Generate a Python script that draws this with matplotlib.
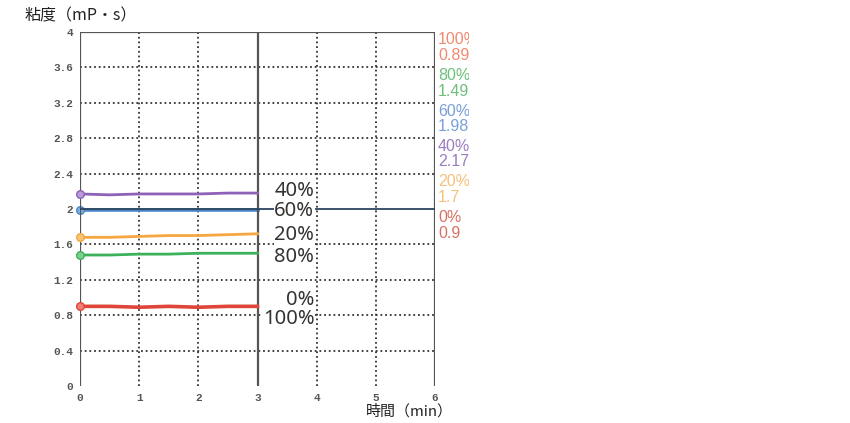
import matplotlib
matplotlib.use('Agg')
import matplotlib.pyplot as plt
from matplotlib.transforms import Bbox, TransformedBbox

# データ（読み取り値）
time_min = [0, 0.5, 1.0, 1.5, 2.0, 2.5, 3.0]
series_names = ['40%', '60%', '20%', '80%', '0%', '100%']
visc_40 = [2.17, 2.16, 2.17, 2.17, 2.17, 2.18, 2.18]
visc_60 = [1.99, 1.99, 1.99, 1.99, 1.99, 1.99, 1.99]
visc_20 = [1.68, 1.68, 1.69, 1.70, 1.70, 1.71, 1.72]
visc_80 = [1.48, 1.48, 1.49, 1.49, 1.50, 1.50, 1.50]
visc_0 = [0.90, 0.90, 0.89, 0.90, 0.89, 0.90, 0.90]

right_names = ['100%', '80%', '60%', '40%', '20%', '0%']
right_values = ['0.89', '1.49', '1.98', '2.17', '1.7', '0.9']

y_ticks = [0, 0.4, 0.8, 1.2, 1.6, 2.0, 2.4, 2.8, 3.2, 3.6, 4]
y_tick_labels = ['0', '0.4', '0.8', '1.2', '1.6', '2', '2.4', '2.8', '3.2', '3.6', '4']
x_ticks = [0, 1, 2, 3, 4, 5, 6]

fig = plt.figure(figsize=(8.5, 4.23), dpi=100)
ax = fig.add_axes([80 / 850, 37 / 423, 355 / 850, 354 / 423])
ax.set_xlim(0, 6)
ax.set_ylim(0, 4)

# グリッド
dot = (0, (1, 1.6))
ax.vlines([1, 2, 4, 5], 0, 4, colors='#333333', linestyles=dot, linewidth=1.3, zorder=1)
ax.hlines([0.4, 0.8, 1.2, 1.6, 2.4, 2.8, 3.2, 3.6], 0, 6, colors='#333333', linestyles=dot,
          linewidth=1.3, zorder=1)
ax.vlines([0, 3, 6], 0, 4, colors='#555555', linewidth=1.6, zorder=2)
ax.hlines([4], 0, 6, colors='#555555', linewidth=1.6, zorder=2)
ax.hlines([2.0], 0, 6, colors='#2d4560', linewidth=1.3, zorder=2)

for s in ax.spines.values():
    s.set_visible(False)

# データ線
line_styles = [
    (visc_40, '#8e62b8', '#b79ad6', 2.0, 3),
    (visc_60, '#4a86c8', '#7fb0e0', 2.6, 1.5),
    (visc_20, '#f5a742', '#f8c47a', 2.0, 3),
    (visc_80, '#3cb15a', '#7ccf8f', 2.0, 3),
    (visc_0, '#e0453a', '#ee8077', 2.6, 3),
]
for vals, c, mc, lw, z in line_styles:
    ax.plot(time_min, vals, color=c, lw=lw, marker='o', ms=5.5, markevery=[0],
            mfc=mc, mec=c, zorder=z, clip_on=False)

# 線のラベル
label_y = [2.20, 1.98, 1.71, 1.46, 0.97, 0.76]
for name, yy in zip(series_names, label_y):
    ax.text(3.96, yy, name, ha='right', va='center', fontsize=14.5, color='#333333',
            family=['Noto Sans', 'DejaVu Sans'], zorder=4,
            bbox=dict(facecolor='white', edgecolor='none', pad=0.3))

ax.set_yticks(y_ticks)
ax.set_yticklabels(y_tick_labels)
ax.set_xticks(x_ticks)
ax.tick_params(length=0, labelsize=8, labelcolor='#555555', pad=5)
for lab in ax.get_xticklabels() + ax.get_yticklabels():
    lab.set_family('Liberation Mono')
    lab.set_fontweight('bold')

# 右側の凡例（はみ出し部分を切る）
right_colors = ['#f08a70', '#6cc07a', '#7a9fd8', '#9a7cc0', '#f7c07a', '#d87060']
clip = TransformedBbox(Bbox([[436 / 850, 0], [469 / 850, 1]]), fig.transFigure)
for i, (n, v, c) in enumerate(zip(right_names, right_values, right_colors)):
    top = 40 + i * 35.5
    for j, t in enumerate([n, v]):
        txt = fig.text(438 / 850, 1 - (top + j * 15.5) / 423, t, ha='left', va='center',
                       fontsize=11.5, color=c, family=['Liberation Sans', 'DejaVu Sans'])
        txt.set_clip_box(clip)
        txt.set_clip_on(True)

cjk = ['Noto Sans CJK JP', 'DejaVu Sans']
fig.text(25 / 850, 1 - 16 / 423, '粘度（mP・s）', ha='left', va='center', fontsize=11.5,
         family=cjk, color='#222222')
fig.text(366 / 850, 1 - 411 / 423, '時間（min）', ha='left', va='center', fontsize=10.8,
         family=cjk, color='#222222')

fig.savefig('out.png', dpi=100)
